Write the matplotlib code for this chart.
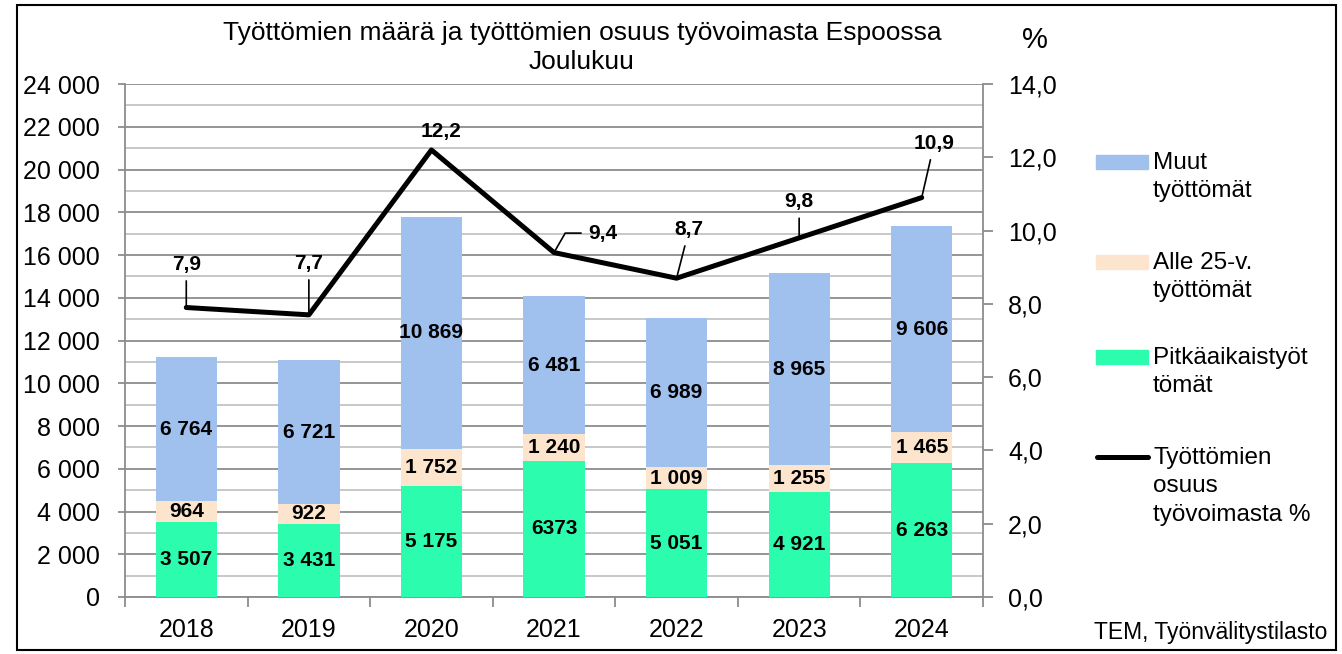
import matplotlib
matplotlib.use("Agg")
import matplotlib.pyplot as plt
from matplotlib.patches import Rectangle
from matplotlib.lines import Line2D
import numpy as np

years = ["2018", "2019", "2020", "2021", "2022", "2023", "2024"]
pitka = [3507, 3431, 5175, 6373, 5051, 4921, 6263]
alle25 = [964, 922, 1752, 1240, 1009, 1255, 1465]
muut = [6764, 6721, 10869, 6481, 6989, 8965, 9606]
osuus = [7.9, 7.7, 12.2, 9.4, 8.7, 9.8, 10.9]
pitka_lbl = ["3 507", "3 431", "5 175", "6373", "5 051", "4 921", "6 263"]
alle_lbl = ["964", "922", "1 752", "1 240", "1 009", "1 255", "1 465"]
muut_lbl = ["6 764", "6 721", "10 869", "6 481", "6 989", "8 965", "9 606"]
osuus_lbl = ["7,9", "7,7", "12,2", "9,4", "8,7", "9,8", "10,9"]
left_ticks = list(range(0, 24001, 2000))
right_ticks = [0, 2, 4, 6, 8, 10, 12, 14]

c_muut = "#A0C0EE"
c_alle = "#FDE5CD"
c_pitka = "#2CFCAE"

plt.rcParams['font.family'] = ['Liberation Sans', 'DejaVu Sans']

W, H = 1342, 654
fig = plt.figure(figsize=(W / 100, H / 100), dpi=100)
ax = fig.add_axes([125 / W, 1 - 597 / H, (983 - 125) / W, (597 - 84) / H])
ax2 = ax.twinx()

x = np.arange(len(years))
bw = 0.5
ax.bar(x, pitka, bw, color=c_pitka, zorder=3)
ax.bar(x, alle25, bw, bottom=pitka, color=c_alle, zorder=3)
bot2 = np.array(pitka) + np.array(alle25)
ax.bar(x, muut, bw, bottom=bot2, color=c_muut, zorder=3)

lblfs = 15
tickfs = 18
for i in range(len(years)):
    ax.text(x[i], pitka[i] / 2, pitka_lbl[i], ha="center", va="center",
            fontsize=lblfs, fontweight="bold", zorder=5)
    ax.text(x[i], pitka[i] + alle25[i] / 2, alle_lbl[i], ha="center", va="center",
            fontsize=lblfs, fontweight="bold", zorder=5)
    ax.text(x[i], bot2[i] + muut[i] / 2, muut_lbl[i], ha="center", va="center",
            fontsize=lblfs, fontweight="bold", zorder=5)

ax.set_xlim(-0.5, len(years) - 0.5)
ax.set_ylim(0, 24000)
ax.set_yticks(left_ticks)
ax.set_yticklabels([f"{v:,}".replace(",", " ") for v in left_ticks])
ax.set_yticks(range(1000, 24000, 2000), minor=True)
ax.grid(axis="y", which="major", color="#8c8c8c", linewidth=1.3, zorder=0)
ax.grid(axis="y", which="minor", color="#c4c4c4", linewidth=1.3, zorder=0)
ax.set_axisbelow(True)

ax.set_xticks(x)
ax.set_xticklabels(years)
ax.set_xticks(np.arange(-0.5, len(years)), minor=True)
ax.tick_params(axis="x", which="major", length=0, labelsize=tickfs, pad=15)
ax.tick_params(axis="x", which="minor", length=7, width=1.3, color="#8c8c8c", direction="out")
ax.tick_params(axis="y", which="major", length=5, width=1.3, color="#8c8c8c", labelsize=tickfs, pad=13)
ax.tick_params(axis="y", which="minor", length=0)

for sp in ["top", "right"]:
    ax.spines[sp].set_visible(False)
for sp in ["left", "bottom"]:
    ax.spines[sp].set_color("#8c8c8c")
    ax.spines[sp].set_linewidth(1.3)

ax2.plot(x, osuus, color="black", linewidth=3.6, zorder=6, solid_capstyle="round")
ax2.set_ylim(0, 14)
ax2.set_yticks(right_ticks)
ax2.set_yticklabels([f"{v:.1f}".replace(".", ",") for v in right_ticks])
ax2.tick_params(axis="y", length=7, width=1.3, color="#8c8c8c", labelsize=tickfs, pad=11)
for sp in ["top", "left", "bottom"]:
    ax2.spines[sp].set_visible(False)
ax2.spines["right"].set_color("#8c8c8c")
ax2.spines["right"].set_linewidth(1.3)

# line labels (offsets of label centre in points)
offs = [(0, 31), (0, 37), (7, 13), (35, 14), (9, 35), (0, 26), (9, 39)]
leaders = [True, True, False, True, True, True, True]
conns = ["arc3", "arc3", "arc3", "angle,angleA=0,angleB=60,rad=0", "arc3", "arc3", "arc3"]
for i in range(len(years)):
    kw = {}
    if leaders[i]:
        kw["arrowprops"] = dict(arrowstyle="-", color="black", lw=1.2,
                                shrinkA=3, shrinkB=0, connectionstyle=conns[i])
    ax2.annotate(osuus_lbl[i], xy=(x[i], osuus[i]), xytext=offs[i],
                 textcoords="offset points", ha="center", va="center",
                 fontsize=lblfs, fontweight="bold", zorder=7, **kw)

fig.text(582 / W, 1 - 33 / H, "Työttömien määrä ja työttömien osuus työvoimasta Espoossa",
         ha="center", va="center", fontsize=19)
fig.text(582 / W, 1 - 62 / H, "Joulukuu", ha="center", va="center", fontsize=19)
fig.text(1035 / W, 1 - 40 / H, "%", ha="center", va="center", fontsize=21)
fig.text(1327 / W, 1 - 633 / H, "TEM, Työnvälitystilasto", ha="right", va="center", fontsize=16.5)

# legend
leg = [
    ("patch", c_muut, 162, "Muut\ntyöttömät"),
    ("patch", c_alle, 262, "Alle 25-v.\ntyöttömät"),
    ("patch", c_pitka, 357, "Pitkäaikaistyöt\ntömät"),
    ("line", "black", 457, "Työttömien\nosuus\ntyövoimasta %"),
]
for kind, col, yc, txt in leg:
    if kind == "patch":
        fig.patches.append(Rectangle((1096 / W, 1 - (yc + 7) / H), 52 / W, 14 / H,
                                     transform=fig.transFigure, color=col))
    else:
        fig.lines.append(Line2D([1097 / W, 1148 / W], [1 - yc / H, 1 - yc / H],
                                transform=fig.transFigure, color=col, linewidth=3.6,
                                solid_capstyle="round"))
    fig.text(1153 / W, 1 - (yc - 10) / H, txt, ha="left", va="top", fontsize=17.5,
             linespacing=1.37)

# frame around figure
fig.patches.append(Rectangle((17 / W, 4 / H), 1319 / W, 645 / H, transform=fig.transFigure,
                             fill=False, edgecolor="black", linewidth=1.5))

fig.savefig("out.png", dpi=100)
